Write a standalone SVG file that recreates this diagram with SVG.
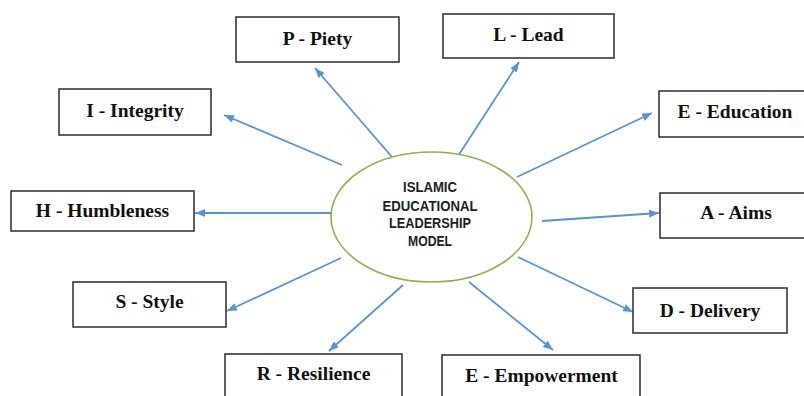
<svg xmlns="http://www.w3.org/2000/svg" width="804" height="396" viewBox="0 0 804 396">
  <style>
    .box rect { fill: #ffffff; stroke: #2b2b2b; stroke-width: 1.5; }
    .box text { font-family: "Liberation Serif", "Times New Roman", serif; font-weight: bold; font-size: 19.5px; fill: #111; text-anchor: middle; }
    .hub ellipse { fill: #ffffff; stroke: #8fb14e; stroke-width: 1.6; }
    .hub text { font-family: "Liberation Sans", Arial, sans-serif; font-weight: bold; font-size: 15px; fill: #1e1e1e; text-anchor: middle; }
    .links path { fill: none; stroke: #5b93cf; stroke-width: 1.8; marker-end: url(#head); }
  </style>
  <defs>
    <marker id="head" viewBox="0 0 10 8" refX="10" refY="4" markerWidth="10" markerHeight="8" markerUnits="userSpaceOnUse" orient="auto">
      <path d="M0,0 L10,4 L0,8 Z" fill="#5b93cf"/>
    </marker>
  </defs>
  <rect width="804" height="396" fill="#ffffff"/>

  <!-- connectors from the central model out to each quality -->
  <g class="links" id="connectors">
    <path d="M392,157 L315,68"/>
    <path d="M458,156 L519,62"/>
    <path d="M342,165 L224,115"/>
    <path d="M517,177 L652,113"/>
    <path d="M331,213 L195,213"/>
    <path d="M542,221 L659,213"/>
    <path d="M341,258 L227,311"/>
    <path d="M403,285 L329,351"/>
    <path d="M469,282 L553,350"/>
    <path d="M518,257 L633,312"/>
  </g>

  <g class="hub" id="model">
    <ellipse cx="431.5" cy="217" rx="100.5" ry="65"/>
    <text x="430" y="192" textLength="54" lengthAdjust="spacingAndGlyphs">ISLAMIC</text>
    <text x="430" y="210.5" textLength="95" lengthAdjust="spacingAndGlyphs">EDUCATIONAL</text>
    <text x="430" y="228" textLength="82" lengthAdjust="spacingAndGlyphs">LEADERSHIP</text>
    <text x="430" y="246" textLength="44" lengthAdjust="spacingAndGlyphs">MODEL</text>
  </g>

  <g class="box" id="piety">
    <rect x="236" y="17" width="163" height="45"/>
    <text x="317.5" y="45">P - Piety</text>
  </g>
  <g class="box" id="lead">
    <rect x="443" y="14" width="171" height="44"/>
    <text x="528.5" y="41">L - Lead</text>
  </g>
  <g class="box" id="integrity">
    <rect x="59" y="89" width="152" height="46"/>
    <text x="135" y="117">I - Integrity</text>
  </g>
  <g class="box" id="education">
    <rect x="659" y="91" width="152" height="46"/>
    <text x="735" y="118">E - Education</text>
  </g>
  <g class="box" id="humbleness">
    <rect x="11" y="191" width="183" height="40"/>
    <text x="102.5" y="217">H - Humbleness</text>
  </g>
  <g class="box" id="aims">
    <rect x="660" y="193" width="152" height="45"/>
    <text x="736" y="219">A - Aims</text>
  </g>
  <g class="box" id="style">
    <rect x="73" y="282" width="153" height="45"/>
    <text x="149.5" y="308">S - Style</text>
  </g>
  <g class="box" id="delivery">
    <rect x="633" y="288" width="154" height="45"/>
    <text x="710" y="317">D - Delivery</text>
  </g>
  <g class="box" id="resilience">
    <rect x="225" y="354" width="177" height="46"/>
    <text x="313.5" y="380">R - Resilience</text>
  </g>
  <g class="box" id="empowerment">
    <rect x="442" y="355" width="198" height="45"/>
    <text x="541.5" y="382">E - Empowerment</text>
  </g>
</svg>
